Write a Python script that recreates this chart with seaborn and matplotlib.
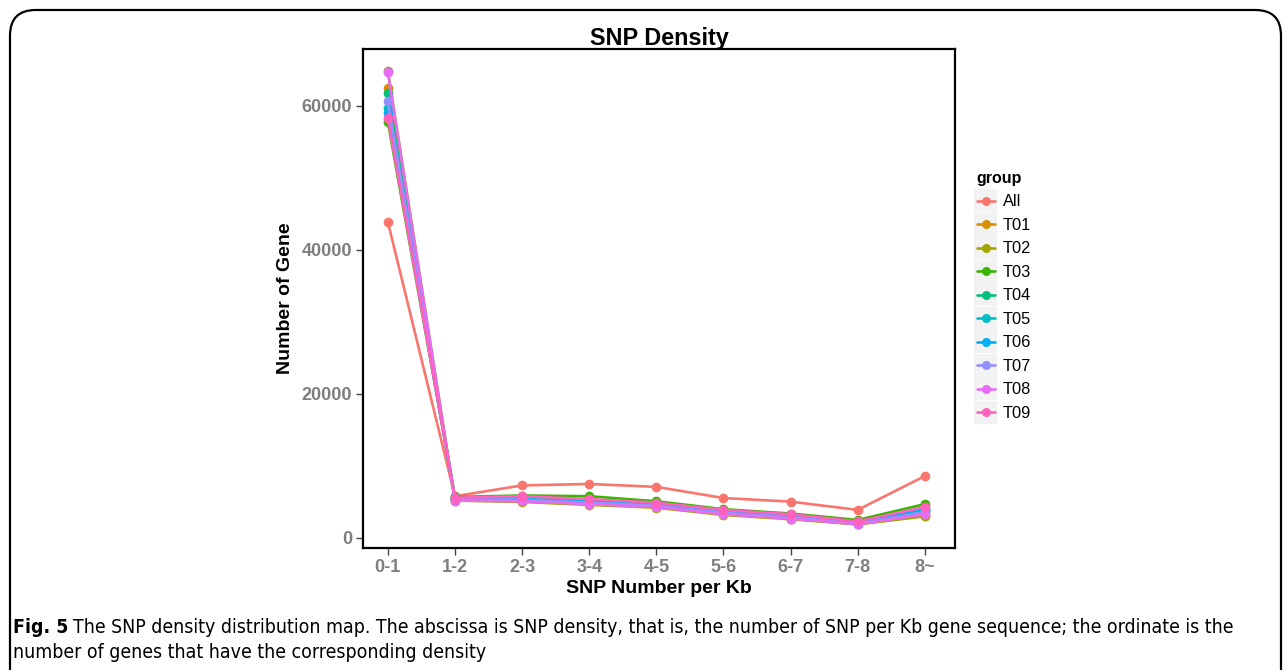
import matplotlib
matplotlib.use("Agg")
import matplotlib.pyplot as plt
import seaborn as sns
import pandas as pd
from matplotlib.patches import FancyBboxPatch, Rectangle
from matplotlib.lines import Line2D
from matplotlib.transforms import IdentityTransform

categories = ["0-1", "1-2", "2-3", "3-4", "4-5", "5-6", "6-7", "7-8", "8~"]
groups = ["All", "T01", "T02", "T03", "T04", "T05", "T06", "T07", "T08", "T09"]
All = [43900, 5800, 7300, 7500, 7100, 5550, 5050, 3900, 8600]
T01 = [62500, 5300, 5100, 4700, 4300, 3300, 2700, 1900, 3100]
T02 = [64900, 5200, 5000, 4600, 4200, 3200, 2600, 1900, 3000]
T03 = [57800, 5700, 5900, 5800, 5100, 4000, 3400, 2500, 4700]
T04 = [61800, 5500, 5500, 5200, 4700, 3700, 3100, 2200, 3900]
T05 = [59700, 5500, 5400, 5100, 4600, 3600, 3000, 2100, 3800]
T06 = [59000, 5400, 5400, 5000, 4600, 3600, 3000, 2100, 4000]
T07 = [60700, 5400, 5300, 4900, 4500, 3500, 2900, 2000, 3600]
T08 = [64700, 5200, 5100, 4700, 4300, 3300, 2700, 1900, 3300]
T09 = [58300, 5600, 5800, 5400, 4900, 3900, 3300, 2300, 4300]
series = [All, T01, T02, T03, T04, T05, T06, T07, T08, T09]
colors = ["#F8766D", "#D89000", "#A3A500", "#39B600", "#00BF7D",
          "#00BFC4", "#00B0F6", "#9590FF", "#E76BF3", "#FF62BC"]
yticks = [0, 20000, 40000, 60000]

rows = []
for g, vals in zip(groups, series):
    for c, v in zip(categories, vals):
        rows.append({"density": c, "count": v, "group": g})
df = pd.DataFrame(rows)

sns.set_theme(style="white")
plt.rcParams["font.family"] = ["Liberation Sans", "DejaVu Sans"]
plt.rcParams["text.color"] = "black"

fig = plt.figure(figsize=(12.84, 6.70), dpi=100)
ax = fig.add_axes([363/1284, 1-548/670, (955-363)/1284, (548-49)/670])

sns.lineplot(data=df, x="density", y="count", hue="group", hue_order=groups,
             palette=colors, marker="o", markersize=7, markeredgewidth=0,
             linewidth=1.9, ax=ax, legend=False, sort=False)

ax.set_xlim(-0.37, 8.45)
ax.set_ylim(-1390, 67900)
ax.set_yticks(yticks)
ax.set_yticklabels([str(t) for t in yticks])
for s in ax.spines.values():
    s.set_color("black")
    s.set_linewidth(1.6)
ax.tick_params(axis="both", direction="out", length=5, width=1, color="#444444",
               labelsize=13, labelcolor="#7f7f7f", bottom=True, left=True, pad=3)
for lab in ax.get_xticklabels() + ax.get_yticklabels():
    lab.set_fontweight("bold")
ax.set_xlabel("SNP Number per Kb", fontsize=14, fontweight="bold", labelpad=3,
              color="black")
ax.set_ylabel("Number of Gene", fontsize=14, fontweight="bold", labelpad=5,
              color="black")
ax.set_title("SNP Density", fontsize=16.8, fontweight="bold", pad=3, color="black")

handles = [Line2D([0], [0], color=c, marker="o", markersize=6.5, markeredgewidth=0,
                  linewidth=1.9) for c in colors]
leg = fig.legend(handles, groups, title="group", loc="upper left",
                 bbox_to_anchor=(962/1284, 1-156/670), frameon=False,
                 fontsize=11.8, title_fontproperties={"weight": "bold", "size": 11.5},
                 handlelength=1.1, handletextpad=0.5, labelspacing=0.52)
leg._legend_box.align = "left"
leg.get_title().set_color("black")
for t in leg.get_texts():
    t.set_color("black")

box = FancyBboxPatch((10/1284, -0.2), 1271/1284, 1.2 - 10/670,
                     boxstyle="round,pad=0,rounding_size=0.02",
                     transform=fig.transFigure, fill=False, edgecolor="black",
                     linewidth=1.6, mutation_aspect=1284/670)
fig.patches.append(box)

# grey key backgrounds behind legend handles
fig.canvas.draw()
renderer = fig.canvas.get_renderer()
for ln in leg.get_lines():
    bb = ln.get_window_extent(renderer)
    cx, cy = (bb.x0 + bb.x1) / 2, (bb.y0 + bb.y1) / 2
    fig.add_artist(Rectangle((cx - 11.5, cy - 11.5), 23, 23, transform=IdentityTransform(),
                             facecolor="#F2F2F2", edgecolor="none", zorder=1))

# caption with a condensed face
cap = dict(family="DejaVu Sans", stretch="condensed", va="baseline", color="black")
fs = 13
y1 = 1 - 633/670
t1 = fig.text(13/1284, y1, "Fig. 5", fontsize=fs, fontweight="bold", **cap)
fig.canvas.draw()
bb = t1.get_window_extent(renderer)
rest = ("The SNP density distribution map. The abscissa is SNP density, that is, "
        "the number of SNP per Kb gene sequence; the ordinate is the")
t2 = fig.text((bb.x1 + 6)/1284, y1, rest, fontsize=fs, **cap)
fig.canvas.draw()
w2 = t2.get_window_extent(renderer).width
target = 1232 - (bb.x1 + 6)
scale = target / w2
t2.set_fontsize(fs * scale)
t1.set_fontsize(fs * scale)
fig.canvas.draw()
bb = t1.get_window_extent(renderer)
t2.set_x((bb.x1 + 5)/1284)
fig.text(13/1284, 1 - 658/670, "number of genes that have the corresponding density",
         fontsize=fs * scale, **cap)

fig.savefig("out.png", dpi=100)
